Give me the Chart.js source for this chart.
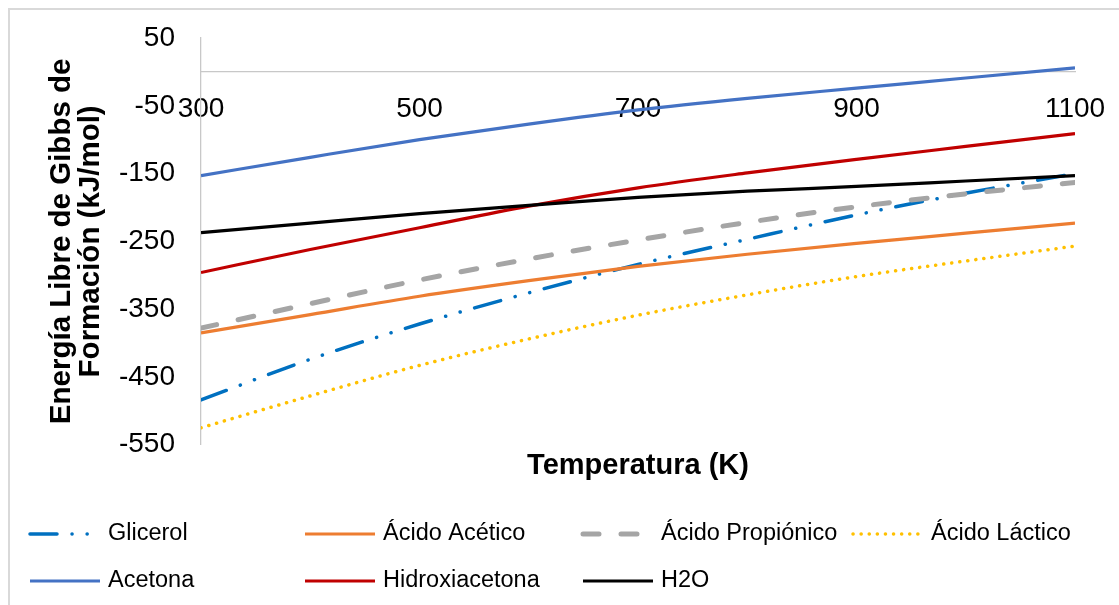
<!DOCTYPE html>
<html>
<head>
<meta charset="utf-8">
<script src="https://cdn.jsdelivr.net/npm/chart.js@4.4.0/dist/chart.umd.min.js"></script>
<style>
  html, body { margin: 0; padding: 0; background: #fff; overflow: hidden; }
  #marco { position: absolute; left: 8px; top: 8px; width: 1200px; height: 700px; border: 2px solid #d9d9d9; }
  #GraficoGibbs { position: absolute; left: 0; top: 0; }
</style>
</head>
<body>
<div id="marco"></div>
<canvas id="GraficoGibbs" width="1119" height="605"></canvas>
<script>
// Temperatura (K) y energía libre de Gibbs de formación (kJ/mol)
var temperaturas = [300, 400, 500, 600, 700, 800, 900, 1000, 1100];
var glicerol = [-484, -424, -372, -326, -284, -247, -211, -179, -150];
var acidoAcetico = [-385, -358, -331, -308, -287, -269, -253, -238, -223];
var acidoPropionico = [-378, -342, -307, -276, -248, -222, -199, -180, -163];
var acidoLactico = [-525, -478, -433, -394, -359, -329, -302, -279, -257];
var acetona = [-153, -126, -100, -77, -56, -39, -24, -9, 6];
var hidroxiacetona = [-296, -262, -230, -198, -171, -149, -129, -110, -91];
var agua = [-237, -223, -209, -197, -185, -176, -169, -161, -153];

var ticksX = [300, 500, 700, 900, 1100];
var ticksY = [50, -50, -150, -250, -350, -450, -550];

function puntos(valores) {
  return temperaturas.map(function (t, i) { return { x: t, y: valores[i] }; });
}

function serie(nombre, valores, color, ancho, guiones, n) {
  return {
    label: nombre,
    data: puntos(valores),
    borderColor: color,
    backgroundColor: color,
    borderWidth: ancho,
    borderDash: guiones,
    borderCapStyle: guiones.length ? 'round' : 'butt',
    cubicInterpolationMode: 'monotone',
    pointRadius: 0,
    fill: false,
    order: -n
  };
}

// leyenda en cuadrícula (4 columnas), como en Excel
var leyendaExcel = {
  id: 'leyendaExcel',
  afterDraw: function (chart) {
    var c = chart.ctx;
    var columnas = [30, 305, 583, 853];
    var filas = [534, 581];
    c.save();
    c.font = '23.5px "Liberation Sans", Arial, sans-serif';
    c.textBaseline = 'middle';
    c.fillStyle = '#000';
    chart.data.datasets.forEach(function (ds, i) {
      var x = columnas[i % 4];
      var y = filas[Math.floor(i / 4)];
      c.beginPath();
      c.strokeStyle = ds.borderColor;
      c.lineWidth = ds.borderWidth;
      c.lineCap = ds.borderCapStyle;
      c.setLineDash(ds.borderDash);
      c.moveTo(x, y);
      c.lineTo(x + 70, y);
      c.stroke();
      c.setLineDash([]);
      c.fillText(ds.label, x + 78, y);
    });
    c.restore();
  }
};

Chart.defaults.font.family = "'Liberation Sans', Arial, sans-serif";
Chart.defaults.color = '#000';

var ctx = document.getElementById('GraficoGibbs').getContext('2d');
var data = {
  datasets: [
    serie('Glicerol', glicerol, '#0070C0', 3.5, [27, 15, 0.1, 15, 0.1, 15], 0),
    serie('Ácido Acético', acidoAcetico, '#ED7D31', 3.2, [], 1),
    serie('Ácido Propiónico', acidoPropionico, '#A5A5A5', 5, [16, 22], 2),
    serie('Ácido Láctico', acidoLactico, '#FFC000', 3.5, [0.1, 8], 3),
    serie('Acetona', acetona, '#4472C4', 3.2, [], 4),
    serie('Hidroxiacetona', hidroxiacetona, '#C00000', 3.2, [], 5),
    serie('H2O', agua, '#000000', 3.2, [], 6)
  ]
};

var options = {
  responsive: false,
  animation: false,
  devicePixelRatio: 1,
  layout: { padding: { left: 0, right: 44, top: 38, bottom: 122 } },
  plugins: {
    legend: { display: false },
    tooltip: { enabled: false },
    title: {
      display: true,
      text: 'Temperatura (K)',
      position: 'bottom',
      fullSize: false,
      color: '#000',
      font: { size: 29, weight: 'bold' },
      padding: { top: 3.5, bottom: 0 }
    }
  },
  scales: {
    x: {
      type: 'linear',
      position: { y: 0 },
      min: 300,
      max: 1100,
      afterBuildTicks: function (scale) {
        scale.ticks = ticksX.map(function (v) { return { value: v }; });
      },
      // las etiquetas pueden salirse del área; no reservar margen
      afterFit: function (scale) { scale.paddingLeft = 0; scale.paddingRight = 0; },
      grid: { display: false, drawTicks: false },
      border: { display: true, color: '#c8c8c8', width: 1.3 },
      ticks: {
        padding: 21,
        maxRotation: 0,
        autoSkip: false,
        color: '#000',
        font: { size: 28 },
        callback: function (v) { return String(v); }
      }
    },
    y: {
      type: 'linear',
      min: -550,
      max: 50,
      afterBuildTicks: function (scale) {
        scale.ticks = ticksY.map(function (v) { return { value: v }; });
      },
      afterFit: function (scale) {
        scale.width = 201;
        scale.paddingTop = 0;
        scale.paddingBottom = 0;
      },
      grid: { display: false, drawTicks: false },
      border: { display: true, color: '#c8c8c8', width: 1.3 },
      ticks: {
        padding: 26,
        color: '#000',
        font: { size: 28 },
        callback: function (v) { return String(v); }
      },
      title: {
        display: true,
        text: ['Energía Libre de Gibbs de', 'Formación (kJ/mol)'],
        color: '#000',
        font: { size: 29.5, weight: 'bold', lineHeight: 1.0 },
        padding: { top: 47, bottom: 0 }
      }
    }
  }
};

var GraficoGibbs = new Chart(ctx, {
  type: 'line',
  data: data,
  options: options,
  plugins: [leyendaExcel]
});
</script>
</body>
</html>
